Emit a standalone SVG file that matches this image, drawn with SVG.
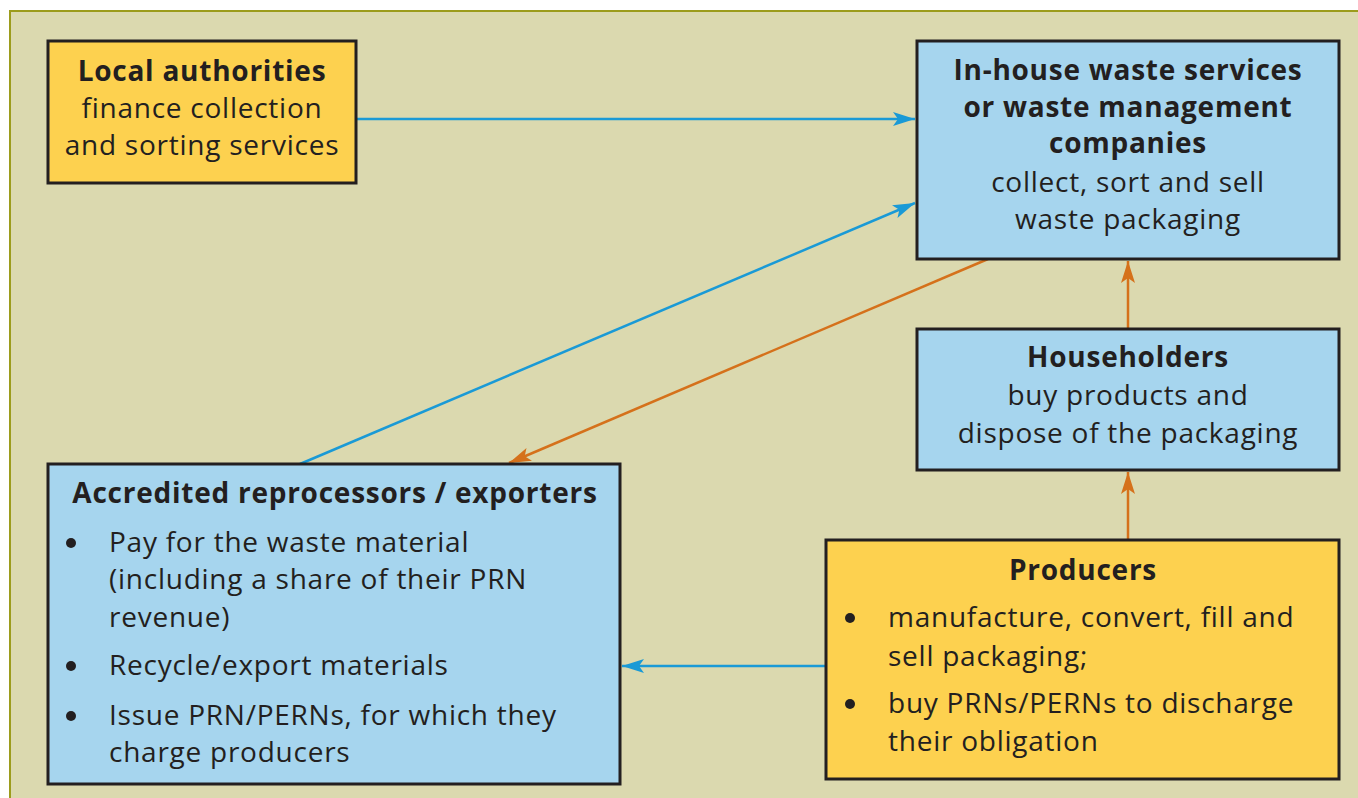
<svg xmlns="http://www.w3.org/2000/svg" width="1358" height="798" viewBox="0 0 1358 798">
<style>
.box{stroke:#231f20;stroke-width:3}
.yel{fill:#fdd14f}
.blu{fill:#a6d5ee}
text{font-family:"Open Sans","Noto Sans",sans-serif;font-size:28px;letter-spacing:0.75px;fill:#231f20}
.c{text-anchor:middle}
.b{font-weight:bold}
.cb{stroke:#1a9ad6;stroke-width:2.5;fill:none}
.co{stroke:#d5711b;stroke-width:2.5;fill:none}
</style>
<defs>
<marker id="ab" markerUnits="userSpaceOnUse" markerWidth="24" markerHeight="16" viewBox="0 0 24 16" refX="22" refY="8" orient="auto"><path d="M0,1 L22,8 L0,15 L5,8 z" fill="#1a9ad6"/></marker>
<marker id="ao" markerUnits="userSpaceOnUse" markerWidth="24" markerHeight="16" viewBox="0 0 24 16" refX="22" refY="8" orient="auto"><path d="M0,1 L22,8 L0,15 L5,8 z" fill="#d5711b"/></marker>
</defs>
<rect x="0" y="0" width="1358" height="798" fill="#ffffff"/>
<rect x="10" y="11" width="1360" height="800" fill="#dbd9af" stroke="#9c9c1c" stroke-width="2"/>
<g id="connectors">
<line class="cb" x1="356" y1="119" x2="915" y2="119" marker-end="url(#ab)"/>
<line class="cb" x1="300" y1="464" x2="915" y2="203" marker-end="url(#ab)"/>
<line class="co" x1="988" y1="259" x2="509" y2="463" marker-end="url(#ao)"/>
<line class="co" x1="1128" y1="329" x2="1128" y2="261" marker-end="url(#ao)"/>
<line class="co" x1="1128" y1="540" x2="1128" y2="472" marker-end="url(#ao)"/>
<line class="cb" x1="826" y1="666" x2="622" y2="666" marker-end="url(#ab)"/>
</g>
<g id="local-authorities">
<rect class="box yel" x="48" y="41" width="308" height="142"/>
<text class="c b" x="202" y="81">Local authorities</text>
<text class="c" x="202" y="118">finance collection</text>
<text class="c" x="202" y="155">and sorting services</text>
</g>
<g id="in-house">
<rect class="box blu" x="917" y="41" width="422" height="218"/>
<text class="c b" x="1128" y="80">In-house waste services</text>
<text class="c b" x="1128" y="117">or waste management</text>
<text class="c b" x="1128" y="153">companies</text>
<text class="c" x="1128" y="192">collect, sort and sell</text>
<text class="c" x="1128" y="229">waste packaging</text>
</g>
<g id="householders">
<rect class="box blu" x="917" y="329" width="422" height="141"/>
<text class="c b" x="1128" y="367">Householders</text>
<text class="c" x="1128" y="405">buy products and</text>
<text class="c" x="1128" y="443">dispose of the packaging</text>
</g>
<g id="accredited">
<rect class="box blu" x="48" y="464" width="572" height="320"/>
<text class="c b" x="335" y="503">Accredited reprocessors / exporters</text>
<circle cx="71" cy="543" r="5" fill="#231f20"/>
<text x="109" y="552">Pay for the waste material</text>
<text x="109" y="589">(including a share of their PRN</text>
<text x="109" y="627">revenue)</text>
<circle cx="71" cy="666" r="5" fill="#231f20"/>
<text x="109" y="675">Recycle/export materials</text>
<circle cx="71" cy="716" r="5" fill="#231f20"/>
<text x="109" y="725">Issue PRN/PERNs, for which they</text>
<text x="109" y="762">charge producers</text>
</g>
<g id="producers">
<rect class="box yel" x="826" y="540" width="513" height="239"/>
<text class="c b" x="1083" y="580">Producers</text>
<circle cx="850" cy="618" r="5" fill="#231f20"/>
<text x="888" y="627">manufacture, convert, fill and</text>
<text x="888" y="666">sell packaging;</text>
<circle cx="850" cy="704" r="5" fill="#231f20"/>
<text x="888" y="713">buy PRNs/PERNs to discharge</text>
<text x="888" y="751">their obligation</text>
</g>
</svg>
